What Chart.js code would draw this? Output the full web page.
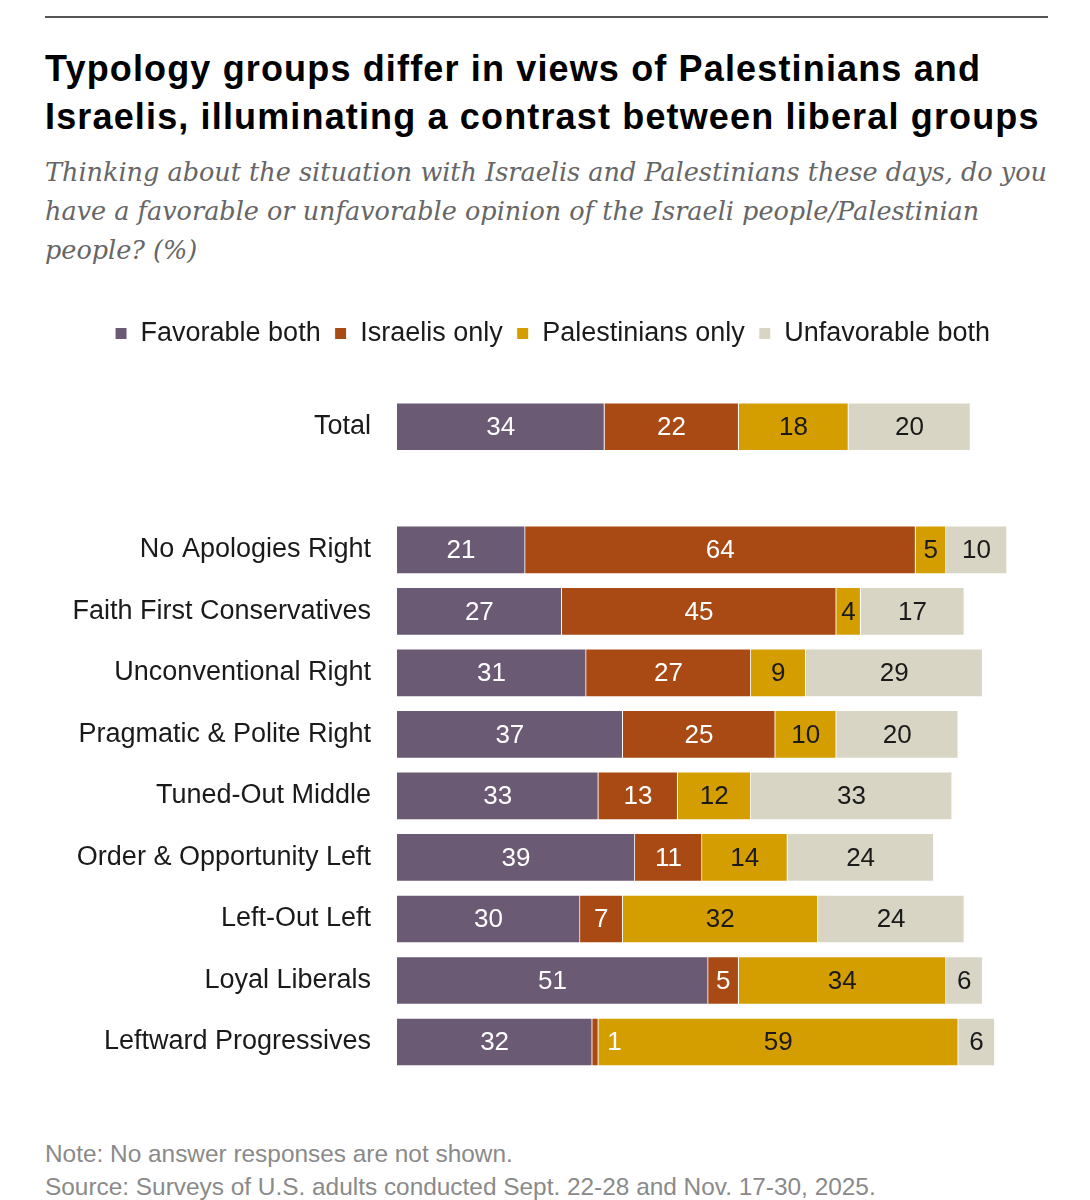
<!DOCTYPE html>
<html>
<head>
<meta charset="utf-8">
<script src="https://cdn.jsdelivr.net/npm/chart.js@4.4.1/dist/chart.umd.min.js"></script>
<style>
  html, body { margin: 0; padding: 0; background: #fff; }
  body { width: 1090px; height: 1200px; position: relative; overflow: hidden; font-family: "Liberation Sans", Arial, sans-serif; }
  .rule { position: absolute; left: 45px; top: 16px; width: 1003px; height: 0; border-top: 2px solid #555; }
  h1 { position: absolute; left: 45px; top: 45px; margin: 0; font-family: "Liberation Sans", Arial, sans-serif; font-weight: 700; font-size: 36px; letter-spacing: 1.15px; line-height: 48px; color: #000; white-space: nowrap; }
  .sub { position: absolute; left: 45px; top: 153px; margin: 0; font-family: "DejaVu Serif", serif; font-style: italic; font-size: 25.5px; line-height: 39px; color: #666; white-space: nowrap; }
  .chart { position: absolute; left: 0; top: 300px; width: 1090px; height: 807px; }
  .note { position: absolute; left: 45px; top: 1137px; font-size: 24.4px; line-height: 33px; color: #8a8a8a; white-space: nowrap; }
</style>
</head>
<body>
<div class="rule"></div>
<h1>Typology groups differ in views of Palestinians and<br>Israelis, illuminating a contrast between liberal groups</h1>
<p class="sub">Thinking about the situation with Israelis and Palestinians these days, do you<br>have a favorable or unfavorable opinion of the Israeli people/Palestinian<br>people? (%)</p>
<div class="chart"><canvas id="c"></canvas></div>
<div class="note">Note: No answer responses are not shown.<br>Source: Surveys of U.S. adults conducted Sept. 22-28 and Nov. 17-30, 2025.</div>
<script>
const categories = ['Total', '', 'No Apologies Right', 'Faith First Conservatives', 'Unconventional Right',
  'Pragmatic & Polite Right', 'Tuned-Out Middle', 'Order & Opportunity Left', 'Left-Out Left',
  'Loyal Liberals', 'Leftward Progressives'];
const favorableBoth    = [34, null, 21, 27, 31, 37, 33, 39, 30, 51, 32];
const israelisOnly     = [22, null, 64, 45, 27, 25, 13, 11, 7, 5, 1];
const palestiniansOnly = [18, null, 5, 4, 9, 10, 12, 14, 32, 34, 59];
const unfavorableBoth  = [20, null, 10, 17, 29, 20, 33, 24, 24, 6, 6];

const seriesNames = ['Favorable both', 'Israelis only', 'Palestinians only', 'Unfavorable both'];
const seriesColors = ['#6b5a74', '#a94913', '#d59e00', '#d9d5c4'];
const labelColors = ['#fff', '#fff', '#1a1a1a', '#1a1a1a'];
const FONT = '"Liberation Sans", Arial, sans-serif';

// value labels drawn inside each segment
const valueLabels = {
  id: 'valueLabels',
  afterDatasetsDraw(chart) {
    const ctx = chart.ctx;
    ctx.save();
    ctx.font = '26px ' + FONT;
    ctx.textBaseline = 'middle';
    chart.data.datasets.forEach((ds, i) => {
      const meta = chart.getDatasetMeta(i);
      meta.data.forEach((bar, j) => {
        const v = ds.data[j];
        if (v == null) return;
        const w = Math.abs(bar.x - bar.base);
        ctx.fillStyle = labelColors[i];
        if (w < 14) {
          ctx.textAlign = 'left';
          ctx.fillText(v, bar.x + 9, bar.y + 1);
        } else {
          ctx.textAlign = 'center';
          ctx.fillText(v, (bar.x + bar.base) / 2, bar.y + 1);
        }
      });
    });
    ctx.restore();
  }
};

// extra room under the legend, and legend nudged right/down
const legendGap = {
  id: 'legendGap',
  beforeInit(chart) {
    const fit = chart.legend.fit;
    chart.legend.fit = function () {
      fit.bind(chart.legend)();
      this.height += 45;
    };
  },
  afterLayout(chart) {
    const lg = chart.legend;
    lg.left += 49; lg.right += 49;
    lg.top += 6; lg.bottom += 6;
  }
};

const allSeries = [favorableBoth, israelisOnly, palestiniansOnly, unfavorableBoth];

new Chart(document.getElementById('c'), {
  type: 'bar',
  data: {
    labels: categories,
    datasets: allSeries.map((d, i) => ({
      label: seriesNames[i],
      data: d,
      backgroundColor: seriesColors[i],
      borderColor: '#fff',
      borderWidth: 1,
      borderSkipped: 'start',
      barThickness: 48
    }))
  },
  options: {
    indexAxis: 'y',
    responsive: true,
    maintainAspectRatio: false,
    animation: false,
    layout: { padding: { left: 0, right: 83, top: 0, bottom: 0 } },
    plugins: {
      legend: {
        position: 'top',
        labels: {
          boxWidth: 12, boxHeight: 12, padding: 14,
          color: '#1a1a1a',
          font: { size: 27, family: FONT }
        }
      },
      tooltip: { enabled: false }
    },
    scales: {
      x: {
        stacked: true, min: 0, max: 100, display: false
      },
      y: {
        stacked: true,
        grid: { display: false },
        border: { display: false },
        afterFit(scale) { scale.width = 397; },
        ticks: {
          padding: 18,
          color: '#1a1a1a',
          font: { size: 27, family: FONT }
        }
      }
    }
  },
  plugins: [valueLabels, legendGap]
});
</script>
</body>
</html>
